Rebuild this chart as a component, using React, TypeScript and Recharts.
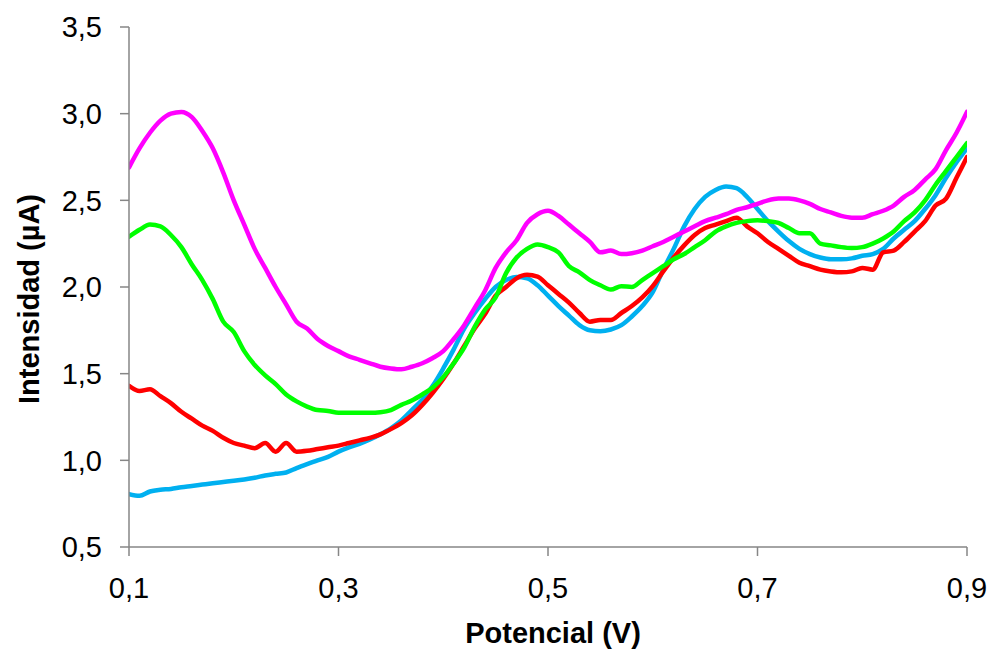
import { LineChart, Line, XAxis, YAxis, Label } from 'recharts';

const FONT = '"Liberation Sans", Arial, sans-serif';
const AXIS_COLOR = '#868686';

// potential (V), one sample every 0.01 V from 0.10 to 0.90
const POTENTIAL = Array.from({ length: 81 }, (_, i) => Math.round((0.1 + i * 0.01) * 100) / 100);

// current (µA) per curve, same order as POTENTIAL
const BLUE = [
  0.805, 0.795, 0.82, 0.83, 0.835, 0.845, 0.852, 0.86, 0.868, 0.875,
  0.882, 0.89, 0.9, 0.913, 0.922, 0.93, 0.955, 0.978, 1.0, 1.02,
  1.05, 1.075, 1.095, 1.12, 1.15, 1.185, 1.23, 1.29, 1.35, 1.43,
  1.53, 1.64, 1.76, 1.85, 1.93, 2.0, 2.04, 2.058, 2.05, 2.01,
  1.95, 1.89, 1.835, 1.78, 1.75, 1.745, 1.755, 1.78, 1.83, 1.89,
  1.97, 2.1, 2.22, 2.35, 2.45, 2.52, 2.56, 2.58, 2.57, 2.52,
  2.45, 2.38, 2.32, 2.265, 2.22, 2.19, 2.17, 2.16, 2.16, 2.165,
  2.18, 2.19, 2.22, 2.28, 2.33, 2.38, 2.45, 2.53, 2.63, 2.72,
  2.8,
];

const RED = [
  1.43, 1.4, 1.41, 1.37, 1.33, 1.28, 1.24, 1.2, 1.17, 1.13,
  1.1, 1.085, 1.07, 1.1, 1.05, 1.1, 1.05, 1.055, 1.065, 1.075,
  1.085, 1.1, 1.115, 1.13, 1.15, 1.18, 1.215, 1.26, 1.32, 1.39,
  1.47, 1.56, 1.66, 1.76, 1.845, 1.95, 2.0, 2.05, 2.07, 2.06,
  2.01, 1.96, 1.91, 1.85, 1.8, 1.81, 1.81, 1.85, 1.89, 1.94,
  2.005, 2.09, 2.17, 2.24, 2.3, 2.34, 2.36, 2.38, 2.4, 2.35,
  2.31, 2.26, 2.22, 2.18, 2.14, 2.12, 2.1, 2.09, 2.085, 2.09,
  2.11, 2.1, 2.2, 2.21, 2.26, 2.32, 2.38, 2.47, 2.51, 2.63,
  2.75,
];

const GREEN = [
  2.29, 2.33, 2.36, 2.35, 2.3, 2.23, 2.13, 2.04, 1.93, 1.8,
  1.74, 1.63, 1.55, 1.49, 1.44, 1.38, 1.34, 1.31, 1.29, 1.285,
  1.275, 1.275, 1.275, 1.275, 1.278, 1.29, 1.32, 1.345, 1.38, 1.42,
  1.48, 1.56, 1.65, 1.77, 1.87, 1.94, 2.08, 2.17, 2.22, 2.245,
  2.23, 2.2, 2.12, 2.085, 2.04, 2.01, 1.985, 2.005, 2.0, 2.04,
  2.08, 2.12, 2.16, 2.19, 2.23, 2.27, 2.32, 2.35, 2.37, 2.38,
  2.385, 2.38, 2.37, 2.34, 2.31, 2.31, 2.25, 2.24, 2.23, 2.225,
  2.23, 2.25, 2.28, 2.32, 2.38, 2.43, 2.5, 2.59, 2.67, 2.75,
  2.83,
];

const MAGENTA = [
  2.69, 2.8, 2.89, 2.96, 3.0, 3.01, 2.98, 2.9, 2.8, 2.66,
  2.5, 2.36, 2.22, 2.11, 2.0, 1.9, 1.8, 1.76, 1.7, 1.66,
  1.63, 1.6, 1.58, 1.56, 1.54, 1.53, 1.525, 1.54, 1.56, 1.59,
  1.63, 1.7, 1.78, 1.88, 1.98, 2.11, 2.2, 2.27, 2.37, 2.42,
  2.44, 2.41, 2.36, 2.31, 2.26, 2.2, 2.21, 2.19, 2.195, 2.21,
  2.235, 2.26, 2.29, 2.32, 2.35, 2.38, 2.4, 2.42, 2.445, 2.46,
  2.48, 2.5, 2.51, 2.51, 2.5, 2.48, 2.45, 2.43, 2.41, 2.4,
  2.4, 2.42, 2.44, 2.47, 2.52, 2.56, 2.62, 2.68, 2.79, 2.89,
  3.01,
];

const X_TICKS = [0.1, 0.3, 0.5, 0.7, 0.9];
const Y_TICKS = [0.5, 1.0, 1.5, 2.0, 2.5, 3.0, 3.5];

// drawn bottom to top
const SERIES = [
  { key: 'blue', values: BLUE, color: '#00B0F0' },
  { key: 'red', values: RED, color: '#FF0000' },
  { key: 'green', values: GREEN, color: '#00FF00' },
  { key: 'magenta', values: MAGENTA, color: '#FF00FF' },
];

const rows = POTENTIAL.map((v, i) => {
  const row: Record<string, number> = { v };
  SERIES.forEach((s) => {
    row[s.key] = s.values[i];
  });
  return row;
});

const commaFmt = (n: number) => n.toFixed(1).replace('.', ',');

const tickStyle = { fontSize: 29, fill: '#000', fontFamily: FONT };

function XTitle(props: any) {
  const vb = props.viewBox;
  return (
    <text
      x={vb.x + vb.width / 2 + 5}
      y={643}
      textAnchor="middle"
      fontFamily={FONT}
      fontWeight="bold"
      fontSize={29}
      fill="#000"
    >
      Potencial (V)
    </text>
  );
}

function YTitle() {
  return (
    <text
      transform="translate(39,299) rotate(-90)"
      textAnchor="middle"
      fontFamily={FONT}
      fontWeight="bold"
      fontSize={29}
      fill="#000"
    >
      Intensidad (µA)
    </text>
  );
}

export default function App() {
  return (
    <div style={{ position: 'absolute', left: 0, top: 0, width: 990, height: 654, background: '#fff' }}>
      <LineChart width={990} height={654} data={rows} margin={{ top: 27, right: 23, bottom: 0, left: 0 }}>
        <XAxis
          dataKey="v"
          type="number"
          domain={[0.1, 0.9]}
          ticks={X_TICKS}
          tickFormatter={commaFmt}
          height={107}
          tickSize={9}
          tickMargin={21}
          tick={tickStyle}
          axisLine={{ stroke: AXIS_COLOR, strokeWidth: 1.5 }}
          tickLine={{ stroke: AXIS_COLOR, strokeWidth: 1.5 }}
          allowDataOverflow
        >
          <Label content={XTitle} />
        </XAxis>
        <YAxis
          type="number"
          domain={[0.5, 3.5]}
          ticks={Y_TICKS}
          tickFormatter={commaFmt}
          width={129}
          tickSize={9}
          tickMargin={18}
          tick={tickStyle}
          axisLine={{ stroke: AXIS_COLOR, strokeWidth: 1.5 }}
          tickLine={{ stroke: AXIS_COLOR, strokeWidth: 1.5 }}
          allowDataOverflow
        >
          <Label content={YTitle} />
        </YAxis>
        {SERIES.map((s) => (
          <Line
            key={s.key}
            dataKey={s.key}
            type="monotone"
            stroke={s.color}
            strokeWidth={4.5}
            strokeLinecap="round"
            strokeLinejoin="round"
            dot={false}
            activeDot={false}
            isAnimationActive={false}
          />
        ))}
      </LineChart>
    </div>
  );
}
